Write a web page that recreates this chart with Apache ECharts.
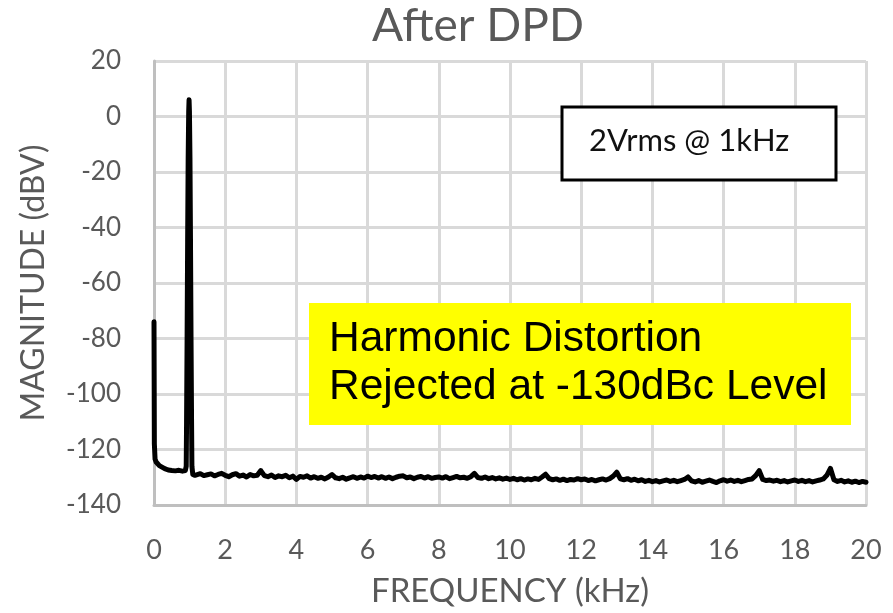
<!DOCTYPE html>
<html>
<head>
<meta charset="utf-8">
<script src="https://cdn.jsdelivr.net/npm/echarts@6/dist/echarts.min.js"></script>
<style>
html,body{margin:0;padding:0;background:#fff;}
#chart{width:893px;height:613px;}
</style>
</head>
<body>
<div id="chart"></div>
<script>
// ---- data ----
const titleText = 'After DPD';
const xAxisTitle = 'FREQUENCY (kHz)';
const yAxisTitle = 'MAGNITUDE (dBV)';
const xTicks = [0, 2, 4, 6, 8, 10, 12, 14, 16, 18, 20];
const yTicks = [-140, -120, -100, -80, -60, -40, -20, 0, 20];
const noteSignal = '2Vrms @ 1kHz';
const noteDistortion = ['Harmonic Distortion', 'Rejected at -130dBc Level'];

// frequency (kHz) near DC and the 1 kHz fundamental
const freqLow = [0, 0.01, 0.03, 0.06, 0.1, 0.15, 0.2, 0.3, 0.4, 0.5, 0.6, 0.7, 0.8, 0.88, 0.905, 0.915, 0.93, 0.945, 0.96, 0.975, 0.985, 0.995, 1.01, 1.025, 1.04, 1.055, 1.065, 1.09, 1.15];
const magLow  = [-74, -118, -123.5, -124.5, -125.2, -125.8, -126.3, -126.9, -127.4, -127.6, -127.7, -127.5, -127.8, -127.6, -126, -110, -80, -45, -15, 2, 6, 2, -15, -45, -80, -110, -126, -129, -129.3];

// noise floor, 1.2 kHz .. 20 kHz (0.1 kHz steps)
const freqFloor = [
 1.2,1.3,1.4,1.5,1.6,1.7,1.8,1.9,2.0,2.1,2.2,2.3,2.4,2.5,2.6,2.7,2.8,2.9,3.0,3.1,
 3.2,3.3,3.4,3.5,3.6,3.7,3.8,3.9,4.0,4.1,4.2,4.3,4.4,4.5,4.6,4.7,4.8,4.9,5.0,5.1,
 5.2,5.3,5.4,5.5,5.6,5.7,5.8,5.9,6.0,6.1,6.2,6.3,6.4,6.5,6.6,6.7,6.8,6.9,7.0,7.1,
 7.2,7.3,7.4,7.5,7.6,7.7,7.8,7.9,8.0,8.1,8.2,8.3,8.4,8.5,8.6,8.7,8.8,8.9,9.0,9.1,
 9.2,9.3,9.4,9.5,9.6,9.7,9.8,9.9,10.0,10.1,10.2,10.3,10.4,10.5,10.6,10.7,10.8,10.9,11.0,11.1,
 11.2,11.3,11.4,11.5,11.6,11.7,11.8,11.9,12.0,12.1,12.2,12.3,12.4,12.5,12.6,12.7,12.8,12.9,13.0,13.1,
 13.2,13.3,13.4,13.5,13.6,13.7,13.8,13.9,14.0,14.1,14.2,14.3,14.4,14.5,14.6,14.7,14.8,14.9,15.0,15.1,
 15.2,15.3,15.4,15.5,15.6,15.7,15.8,15.9,16.0,16.1,16.2,16.3,16.4,16.5,16.6,16.7,16.8,16.9,17.0,17.1,
 17.2,17.3,17.4,17.5,17.6,17.7,17.8,17.9,18.0,18.1,18.2,18.3,18.4,18.5,18.6,18.7,18.8,18.9,19.0,19.1,
 19.2,19.3,19.4,19.5,19.6,19.7,19.8,19.9,20.0
];
const magFloor = [
 -129.0,-128.7,-129.4,-129.1,-128.8,-129.5,-129.0,-128.6,-129.3,-129.8,-129.1,-128.7,-129.6,-129.2,-129.9,-129.0,-129.5,-129.3,-127.6,-129.4,
 -129.8,-129.2,-130.1,-129.5,-129.8,-129.3,-130.2,-129.6,-130.8,-129.7,-130.0,-129.5,-130.3,-129.8,-130.4,-130.0,-130.6,-129.9,-129.0,-130.2,
 -130.5,-130.0,-130.7,-130.2,-129.8,-130.4,-129.9,-130.3,-129.6,-130.1,-129.7,-130.3,-129.8,-130.4,-129.9,-130.5,-130.0,-129.6,-129.5,-130.2,
 -129.9,-130.5,-130.0,-129.7,-130.3,-129.8,-130.4,-130.1,-129.9,-130.3,-129.8,-130.5,-130.1,-129.7,-130.2,-130.0,-130.4,-129.8,-128.6,-130.1,
 -130.4,-129.9,-130.5,-130.1,-130.6,-130.2,-130.7,-130.3,-130.8,-130.4,-130.9,-130.5,-131.0,-130.6,-130.9,-130.4,-130.8,-129.9,-128.9,-130.5,
 -130.9,-130.6,-131.1,-130.7,-131.2,-130.8,-131.0,-130.5,-130.9,-130.6,-131.2,-130.8,-131.3,-130.9,-130.6,-131.0,-130.5,-129.6,-128.2,-130.6,
 -130.9,-130.5,-131.1,-130.7,-131.3,-130.9,-131.5,-131.1,-131.6,-131.2,-131.7,-131.3,-131.0,-131.5,-131.1,-131.6,-131.2,-130.8,-129.9,-131.3,
 -131.7,-131.2,-131.8,-131.4,-131.0,-131.5,-131.9,-131.3,-130.9,-131.4,-131.0,-131.5,-131.1,-131.6,-131.2,-130.8,-130.6,-129.4,-127.6,-130.8,
 -131.2,-131.0,-131.4,-131.1,-131.6,-131.2,-131.7,-131.3,-131.0,-131.5,-131.1,-131.6,-131.2,-131.7,-131.3,-131.0,-130.6,-129.3,-126.8,-130.9,
 -131.5,-131.1,-131.7,-131.3,-131.8,-131.4,-131.9,-131.5,-131.8
];

// ---- build chart ----
const spectrum = [];
freqLow.forEach((f, i) => spectrum.push([f, magLow[i]]));
freqFloor.forEach((f, i) => spectrum.push([f, magFloor[i]]));

const labelFont = 'Lato, "Open Sans", sans-serif';
const grey = '#595959';

const chart = echarts.init(document.getElementById('chart'), null, {renderer: 'canvas'});
chart.setOption({
  animation: false,
  backgroundColor: '#ffffff',
  title: {
    text: titleText,
    left: 372, top: 3, padding: 0,
    textStyle: {fontFamily: labelFont, fontSize: 46, fontWeight: 'normal', color: grey}
  },
  grid: {left: 154, right: 27, top: 61, bottom: 100, containLabel: false},
  xAxis: {
    type: 'value', min: xTicks[0], max: xTicks[xTicks.length - 1], interval: xTicks[1] - xTicks[0],
    name: xAxisTitle, nameLocation: 'middle', nameGap: 70,
    nameTextStyle: {fontFamily: labelFont, fontSize: 33, color: grey},
    axisLine: {show: true, onZero: false, lineStyle: {color: '#bfbfbf', width: 3}},
    axisTick: {show: false},
    axisLabel: {margin: 32, fontFamily: labelFont, fontSize: 27, color: grey},
    splitLine: {show: true, lineStyle: {color: '#d9d9d9', width: 3}}
  },
  yAxis: {
    type: 'value', min: yTicks[0], max: yTicks[yTicks.length - 1], interval: yTicks[1] - yTicks[0],
    name: yAxisTitle, nameLocation: 'middle', nameGap: 104, nameRotate: 90,
    nameTextStyle: {fontFamily: labelFont, fontSize: 32, color: grey},
    axisLine: {show: true, lineStyle: {color: '#bfbfbf', width: 3}},
    axisTick: {show: false},
    axisLabel: {margin: 33, fontFamily: labelFont, fontSize: 26, color: grey},
    splitLine: {show: true, lineStyle: {color: '#d9d9d9', width: 3}}
  },
  series: [{
    type: 'line',
    data: spectrum,
    showSymbol: false,
    smooth: false,
    lineStyle: {color: '#000000', width: 5, join: 'round', cap: 'round'},
    z: 3
  }],
  graphic: [
    {
      type: 'rect', z: 10,
      shape: {x: 562, y: 107, width: 274, height: 73},
      style: {fill: '#ffffff', stroke: '#000000', lineWidth: 3}
    },
    {
      type: 'text', z: 11, left: 589, top: 125,
      style: {text: noteSignal, fontFamily: labelFont, fontSize: 31, fill: '#111111'}
    },
    {
      type: 'rect', z: 10,
      shape: {x: 309, y: 303, width: 542, height: 122},
      style: {fill: '#ffff00', stroke: null}
    },
    {
      type: 'text', z: 11, left: 329, top: 315,
      style: {text: noteDistortion.join('\n'), fontFamily: '"Liberation Sans", Arial, sans-serif', fontSize: 42.5, lineHeight: 48, fill: '#000000'}
    }
  ]
});
</script>
</body>
</html>
